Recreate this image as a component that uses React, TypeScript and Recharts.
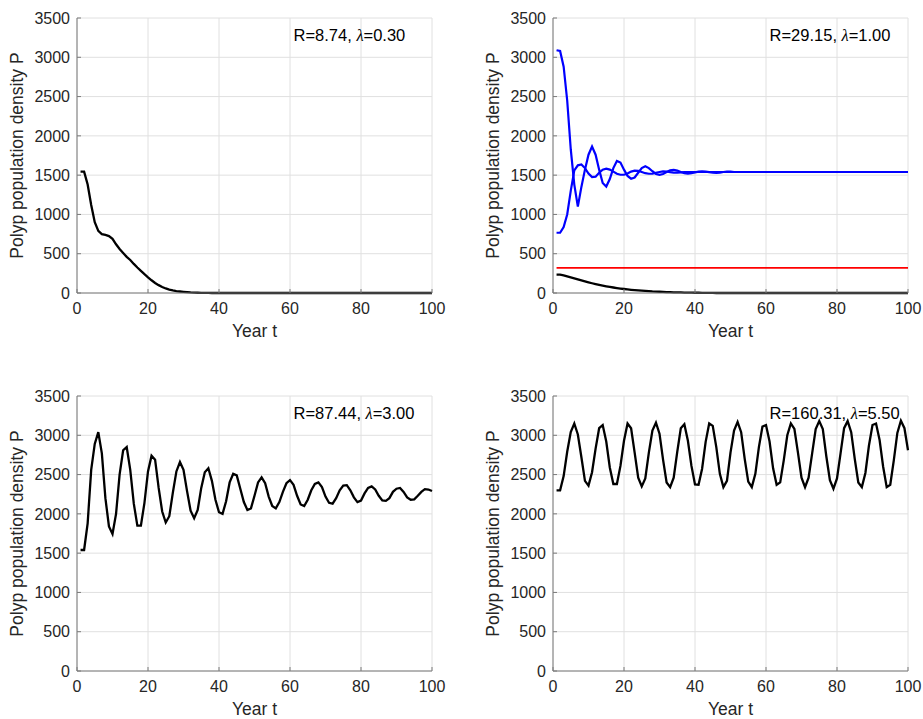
import React from "react";
import {
  LineChart,
  Line,
  XAxis,
  YAxis,
  CartesianGrid,
  ReferenceDot,
} from "recharts";

const FONT = '"Liberation Sans", Arial, Helvetica, sans-serif';
const MATH_FONT = '"Liberation Serif", "Times New Roman", serif';
const AXIS = "#7a7a7a";
const INK = "#262626";

const years = Array.from({ length: 100 }, (_, i) => i + 1);
const xTicks = [0, 20, 40, 60, 80, 100];
const yTicks = [0, 500, 1000, 1500, 2000, 2500, 3000, 3500];

// R=8.74, lambda=0.30 : decline to extinction
const pDecline = [
  1545, 1545, 1380, 1120, 900, 790, 750, 740, 725, 690,
  620, 560, 510, 460, 420, 370, 325, 282, 240, 200,
  162, 128, 100, 77, 58, 44, 33, 25, 19, 14,
  10, 7, 5, 3, 2, 1, 1, 0, 0, 0,
  0, 0, 0, 0, 0, 0, 0, 0, 0, 0,
  0, 0, 0, 0, 0, 0, 0, 0, 0, 0,
  0, 0, 0, 0, 0, 0, 0, 0, 0, 0,
  0, 0, 0, 0, 0, 0, 0, 0, 0, 0,
  0, 0, 0, 0, 0, 0, 0, 0, 0, 0,
  0, 0, 0, 0, 0, 0, 0, 0, 0, 0,
];

// R=29.15, lambda=1.00 : three starting points + threshold
const pFromHigh = [
  3090, 3080, 2880, 2450, 1830, 1380, 1100, 1350, 1570, 1760,
  1865, 1760, 1570, 1400, 1355, 1450, 1590, 1680, 1660, 1570,
  1490, 1455, 1470, 1530, 1590, 1612, 1590, 1550, 1515, 1505,
  1515, 1540, 1560, 1568, 1558, 1540, 1525, 1518, 1525, 1535,
  1545, 1548, 1545, 1538, 1532, 1530, 1533, 1540, 1544, 1545,
  1540, 1540, 1540, 1540, 1540, 1540, 1540, 1540, 1540, 1540,
  1540, 1540, 1540, 1540, 1540, 1540, 1540, 1540, 1540, 1540,
  1540, 1540, 1540, 1540, 1540, 1540, 1540, 1540, 1540, 1540,
  1540, 1540, 1540, 1540, 1540, 1540, 1540, 1540, 1540, 1540,
  1540, 1540, 1540, 1540, 1540, 1540, 1540, 1540, 1540, 1540,
];

const pFromMid = [
  767, 767, 840, 1000, 1300, 1560, 1625, 1635, 1590, 1520,
  1475, 1480, 1530, 1570, 1582, 1570, 1545, 1518, 1505, 1505,
  1520, 1545, 1558, 1555, 1540, 1525, 1518, 1520, 1530, 1540,
  1548, 1546, 1538, 1532, 1532, 1536, 1540, 1540, 1540, 1540,
  1540, 1540, 1540, 1540, 1540, 1540, 1540, 1540, 1540, 1540,
  1540, 1540, 1540, 1540, 1540, 1540, 1540, 1540, 1540, 1540,
  1540, 1540, 1540, 1540, 1540, 1540, 1540, 1540, 1540, 1540,
  1540, 1540, 1540, 1540, 1540, 1540, 1540, 1540, 1540, 1540,
  1540, 1540, 1540, 1540, 1540, 1540, 1540, 1540, 1540, 1540,
  1540, 1540, 1540, 1540, 1540, 1540, 1540, 1540, 1540, 1540,
];

const pFromLow = [
  235, 235, 225, 212, 200, 187, 173, 160, 147, 135,
  124, 113, 103, 94, 85, 77, 70, 63, 57, 51,
  46, 41, 37, 33, 29, 26, 23, 20, 18, 16,
  14, 12, 10, 9, 8, 7, 6, 5, 4, 3,
  3, 2, 2, 1, 1, 0, 0, 0, 0, 0,
  0, 0, 0, 0, 0, 0, 0, 0, 0, 0,
  0, 0, 0, 0, 0, 0, 0, 0, 0, 0,
  0, 0, 0, 0, 0, 0, 0, 0, 0, 0,
  0, 0, 0, 0, 0, 0, 0, 0, 0, 0,
  0, 0, 0, 0, 0, 0, 0, 0, 0, 0,
];

const thresholdT = [1, 100];
const thresholdP = [320, 320];

// R=87.44, lambda=3.00 : damped oscillation
const pDamped = [
  1540, 1540, 1880, 2560, 2890, 3040, 2770, 2200, 1840, 1745,
  2000, 2500, 2810, 2850, 2560, 2130, 1850, 1850, 2140, 2540,
  2740, 2690, 2330, 2030, 1890, 1970, 2270, 2540, 2660, 2560,
  2290, 2040, 1945, 2050, 2330, 2530, 2580, 2420, 2180, 2020,
  2000, 2160, 2400, 2510, 2490, 2320, 2150, 2050, 2070, 2230,
  2400, 2465, 2390, 2220, 2100, 2070, 2150, 2280, 2390, 2430,
  2370, 2230, 2120, 2100, 2180, 2300, 2380, 2400, 2340, 2220,
  2140, 2130, 2200, 2300, 2360, 2365, 2300, 2210, 2150, 2170,
  2260, 2330, 2350, 2310, 2230, 2170, 2165, 2200, 2280, 2320,
  2330, 2280, 2210, 2180, 2185, 2230, 2280, 2315, 2310, 2290,
];

// R=160.31, lambda=5.50 : sustained cycle
const pCycle = [
  2300, 2300, 2480, 2790, 3040, 3150, 3010, 2720, 2420, 2360,
  2530, 2830, 3090, 3130, 2920, 2590, 2380, 2380, 2610, 2930,
  3150, 3090, 2780, 2460, 2350, 2450, 2780, 3060, 3160, 3020,
  2690, 2400, 2340, 2460, 2790, 3090, 3140, 2930, 2610, 2375,
  2370, 2575, 2916, 3150, 3120, 2850, 2510, 2340, 2420, 2780,
  3060, 3170, 3040, 2700, 2410, 2340, 2510, 2850, 3110, 3130,
  2920, 2580, 2370, 2400, 2680, 3000, 3150, 3080, 2780, 2460,
  2340, 2460, 2770, 3080, 3180, 3080, 2730, 2430, 2320, 2450,
  2770, 3090, 3180, 3040, 2700, 2400, 2340, 2520, 2870, 3130,
  3150, 2940, 2600, 2340, 2370, 2680, 3030, 3185, 3090, 2810,
];

type Series = { key: string; values: number[]; color: string; width: number };

const CHART_W = 447;
const CHART_H = 345;

function yTitle(props: any) {
  const vb = props.viewBox || {};
  const x = vb.x + vb.width - 60;
  const y = vb.y + vb.height / 2;
  return (
    <text
      x={x}
      y={y}
      dy="0.36em"
      transform={`rotate(-90 ${x} ${y})`}
      textAnchor="middle"
      fontSize={17.5}
      fontFamily={FONT}
      fill={INK}
    >
      Polyp population density P
    </text>
  );
}

function xTitle(props: any) {
  const vb = props.viewBox || {};
  return (
    <text
      x={vb.x + vb.width / 2}
      y={vb.y + 44}
      textAnchor="middle"
      fontSize={17.5}
      fontFamily={FONT}
      fill={INK}
    >
      Year t
    </text>
  );
}

function note(r: string, lam: string) {
  return (props: any) => {
    const vb = props.viewBox || {};
    const x = (vb.x ?? 0) + (vb.width ?? 0) / 2;
    const y = (vb.y ?? 0) + (vb.height ?? 0) / 2;
    return (
      <text x={x} y={y} dy="0.36em" fontSize={16.5} fontFamily={FONT} fill="#000">
        {`R=${r}, `}
        <tspan fontFamily={MATH_FONT} fontStyle="italic">
          λ
        </tspan>
        {`=${lam}`}
      </text>
    );
  };
}

function Panel({
  left,
  top,
  r,
  lam,
  series,
  threshold,
}: {
  left: number;
  top: number;
  r: string;
  lam: string;
  series: Series[];
  threshold?: boolean;
}) {
  const data = years.map((t, i) => {
    const row: Record<string, number> = { t };
    series.forEach((s) => {
      row[s.key] = s.values[i];
    });
    return row;
  });
  const thresholdData = thresholdT.map((t, i) => ({ t, thr: thresholdP[i] }));

  return (
    <div style={{ position: "absolute", left, top }}>
      <LineChart
        width={CHART_W}
        height={CHART_H}
        data={data}
        margin={{ top: 18, right: 15, left: 17, bottom: 22 }}
      >
        <CartesianGrid stroke="#e0e0e0" />
        <XAxis
          dataKey="t"
          type="number"
          domain={[0, 100]}
          ticks={xTicks}
          interval={0}
          height={30}
          tickSize={-4}
          tickMargin={14}
          stroke={AXIS}
          tick={{ fill: INK, fontSize: 16, fontFamily: FONT }}
          label={xTitle}
        />
        <YAxis
          type="number"
          domain={[0, 3500]}
          ticks={yTicks}
          interval={0}
          width={60}
          tickSize={-4}
          tickMargin={11}
          stroke={AXIS}
          tick={{ fill: INK, fontSize: 16, fontFamily: FONT }}
          label={yTitle}
        />
        <XAxis
          xAxisId="top"
          orientation="top"
          dataKey="t"
          type="number"
          domain={[0, 100]}
          ticks={xTicks}
          interval={0}
          height={0}
          tickSize={-4}
          tick={false}
          stroke={AXIS}
        />
        <YAxis
          yAxisId="right"
          orientation="right"
          type="number"
          domain={[0, 3500]}
          ticks={yTicks}
          interval={0}
          width={0}
          tickSize={-4}
          tick={false}
          stroke={AXIS}
        />
        {threshold && (
          <Line
            data={thresholdData}
            dataKey="thr"
            stroke="#ff0000"
            strokeWidth={1.6}
            dot={false}
            isAnimationActive={false}
          />
        )}
        {series.map((s) => (
          <Line
            key={s.key}
            dataKey={s.key}
            type="linear"
            stroke={s.color}
            strokeWidth={s.width}
            dot={false}
            isAnimationActive={false}
          />
        ))}
        <ReferenceDot
          x={61}
          y={3285}
          r={0}
          fill="none"
          stroke="none"
          label={note(r, lam)}
        />
      </LineChart>
    </div>
  );
}

export default function App() {
  return (
    <div
      style={{
        position: "absolute",
        left: 0,
        top: 0,
        width: 923,
        height: 719,
        overflow: "hidden",
        background: "#fff",
        fontFamily: FONT,
      }}
    >
      <Panel
        left={0}
        top={0}
        r="8.74"
        lam="0.30"
        series={[{ key: "p", values: pDecline, color: "#000", width: 2.3 }]}
      />
      <Panel
        left={476}
        top={0}
        r="29.15"
        lam="1.00"
        threshold
        series={[
          { key: "low", values: pFromLow, color: "#000", width: 2.3 },
          { key: "mid", values: pFromMid, color: "#0000ff", width: 2.2 },
          { key: "high", values: pFromHigh, color: "#0000ff", width: 2.2 },
        ]}
      />
      <Panel
        left={0}
        top={378}
        r="87.44"
        lam="3.00"
        series={[{ key: "p", values: pDamped, color: "#000", width: 2.3 }]}
      />
      <Panel
        left={476}
        top={378}
        r="160.31"
        lam="5.50"
        series={[{ key: "p", values: pCycle, color: "#000", width: 2.3 }]}
      />
    </div>
  );
}
